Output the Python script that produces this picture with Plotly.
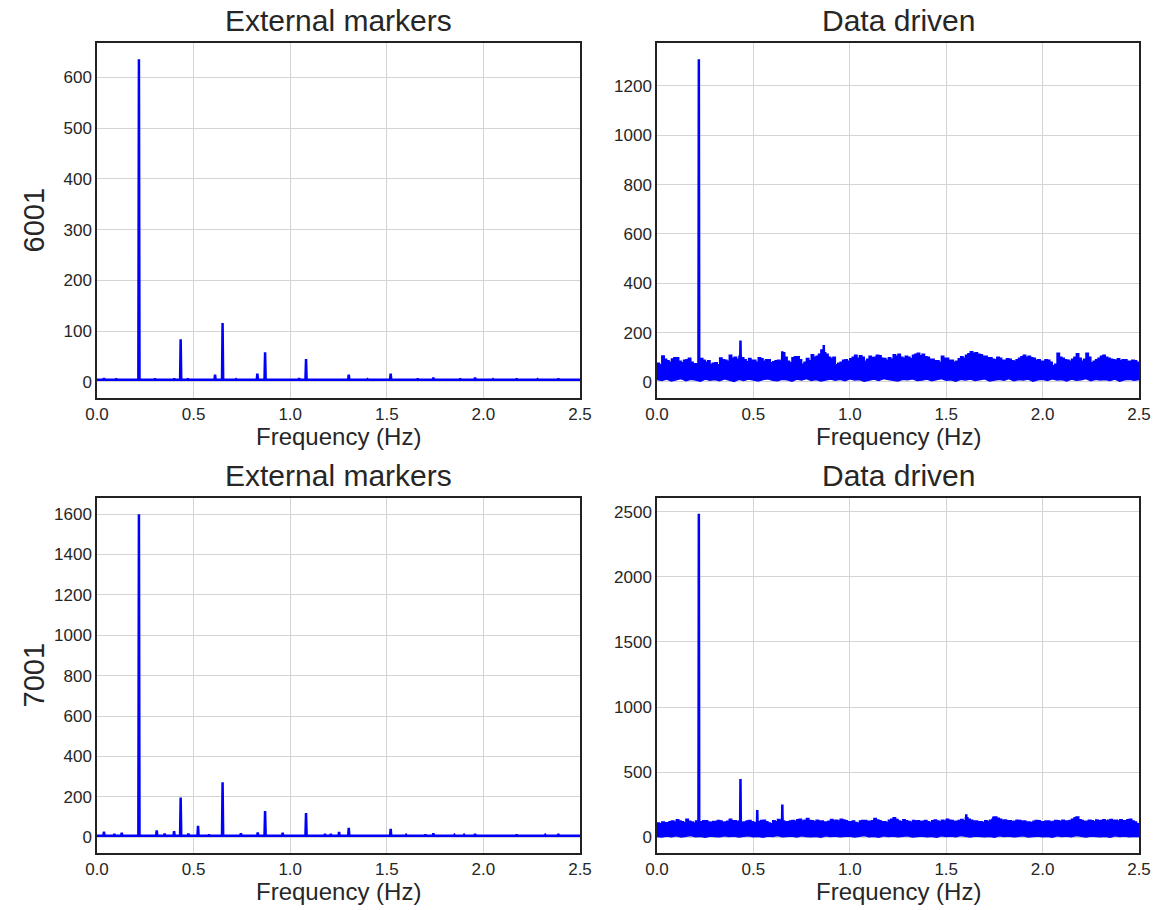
import plotly.graph_objects as go

# ---------------- data ----------------
# External markers, subject 6001: spectral spikes on a low floor
em1_freq = [0.036, 0.10, 0.217, 0.30, 0.37, 0.40, 0.433, 0.47, 0.611, 0.650, 0.72, 0.80,
            0.830, 0.870, 0.95, 1.046, 1.082, 1.16, 1.22, 1.303, 1.40, 1.45, 1.520, 1.66,
            1.741, 1.88, 1.957, 2.05, 2.172, 2.28, 2.35, 2.388]
em1_amp = [7, 6, 636, 6, 5, 6, 84, 6, 14, 116, 5, 5,
           16, 58, 5, 7, 45, 5, 5, 14, 5, 5, 16, 6,
           8, 6, 8, 5, 6, 5, 5, 6]
em1_floor = 4

# External markers, subject 7001
em2_freq = [0.036, 0.09, 0.128, 0.217, 0.309, 0.35, 0.399, 0.433, 0.473, 0.523, 0.58, 0.650,
            0.745, 0.832, 0.870, 0.961, 1.082, 1.18, 1.21, 1.253, 1.303, 1.520, 1.60, 1.70,
            1.741, 1.85, 1.90, 1.957, 2.172, 2.32, 2.388]
em2_amp = [28, 16, 22, 1600, 34, 18, 30, 197, 18, 56, 14, 272,
           20, 24, 130, 22, 120, 16, 16, 26, 46, 42, 12, 14,
           20, 12, 12, 16, 14, 12, 16]
em2_floor = 8

# Data driven: noise band. Upper envelope sampled every 0.0125 Hz, lower every 0.025 Hz
up_freq = [round(i * 0.0125, 4) for i in range(201)]
lo_freq = [round(i * 0.025, 3) for i in range(101)]

dd1_upper = [76, 70, 105, 92, 86, 80, 93, 98,
             98, 84, 78, 88, 90, 96, 80, 74,
             74, 70, 95, 88, 80, 86, 72, 76,
             78, 70, 97, 90, 88, 84, 108, 96,
             100, 92, 104, 98, 90, 82, 95, 88,
             88, 80, 98, 94, 84, 90, 90, 78,
             82, 86, 88, 84, 118, 100, 84, 78,
             98, 102, 102, 90, 72, 80, 95, 86,
             110, 100, 104, 112, 130, 118, 112, 100,
             95, 100, 70, 76, 80, 88, 90, 84,
             94, 100, 108, 96, 106, 100, 84, 92,
             104, 98, 100, 108, 106, 96, 95, 88,
             98, 92, 110, 104, 112, 100, 96, 104,
             100, 94, 108, 112, 116, 106, 112, 102,
             100, 92, 92, 86, 86, 80, 104, 96,
             96, 88, 88, 80, 84, 94, 102, 96,
             108, 114, 122, 116, 118, 112, 110, 104,
             104, 98, 98, 92, 90, 100, 96, 88,
             88, 94, 92, 86, 84, 90, 96, 102,
             108, 100, 104, 98, 96, 88, 90, 84,
             84, 90, 88, 80, 66, 72, 116, 100,
             96, 90, 88, 84, 92, 100, 114, 96,
             84, 92, 116, 100, 78, 84, 90, 96,
             104, 108, 100, 96, 92, 90, 88, 94,
             86, 90, 90, 84, 84, 88, 86, 80,
             74]
dd1_lower = [10, 6, 12, 4, 9, 14, 5, 11, 8, 3, 12, 7, 10, 5, 13, 8, 2, 11, 6, 12,
             9, 4, 10, 13, 7, 5, 11, 9, 3, 12, 8, 14, 6, 10, 4, 9, 12, 7, 11, 5,
             13, 8, 10, 3, 9, 12, 6, 14, 10, 7, 4, 11, 9, 13, 6, 8, 12, 5, 10, 14,
             7, 9, 3, 11, 8, 12, 6, 10, 13, 4, 9, 11, 7, 14, 5, 10, 8, 12, 3, 9,
             11, 6, 13, 8, 10, 4, 12, 7, 9, 14, 5, 11, 8, 10, 6, 12, 3, 9, 11, 7, 10]
dd1_peak_freq = [0.217, 0.433, 0.650, 0.865]
dd1_peak_amp = [1308, 168, 124, 150]
dd1_floor = 50

dd2_upper = [110, 104, 118, 112, 112, 120, 125, 118,
             135, 126, 120, 112, 140, 124, 118, 110,
             125, 116, 120, 128, 128, 118, 115, 122,
             122, 130, 126, 116, 118, 124, 140, 128,
             128, 120, 125, 116, 118, 126, 130, 120,
             115, 108, 122, 130, 132, 120, 110, 104,
             128, 120, 138, 130, 125, 118, 120, 126,
             130, 124, 135, 140, 126, 132, 145, 130,
             128, 120, 132, 126, 125, 118, 118, 124,
             138, 130, 132, 126, 140, 134, 128, 120,
             120, 126, 115, 108, 125, 130, 130, 124,
             122, 128, 145, 134, 128, 120, 120, 114,
             132, 140, 150, 138, 126, 120, 135, 128,
             122, 116, 130, 126, 128, 120, 124, 130,
             120, 114, 128, 134, 126, 120, 132, 126,
             140, 132, 130, 122, 124, 130, 138, 128,
             150, 140, 132, 126, 126, 120, 120, 114,
             128, 122, 132, 140, 156, 146, 140, 132,
             134, 128, 128, 122, 124, 132, 130, 124,
             126, 118, 118, 112, 124, 130, 128, 120,
             120, 126, 126, 118, 122, 130, 128, 122,
             132, 126, 125, 130, 140, 148, 156, 136,
             130, 122, 124, 132, 128, 120, 134, 128,
             130, 136, 126, 132, 138, 130, 132, 126,
             135, 128, 128, 136, 140, 126, 118, 104,
             95]
dd2_lower = [6, 2, 10, 4, 12, 3, 8, 14, 5, 9, 2, 11, 7, 4, 13, 6, 10, 3, 8, 12,
             5, 9, 2, 11, 6, 14, 4, 8, 10, 3, 12, 7, 5, 9, 2, 13, 6, 10, 4, 8,
             11, 3, 7, 14, 5, 9, 2, 12, 6, 10, 4, 8, 13, 3, 7, 11, 5, 9, 2, 12,
             6, 10, 4, 14, 8, 3, 11, 7, 5, 9, 2, 12, 6, 10, 4, 8, 13, 3, 7, 11,
             5, 9, 2, 12, 6, 10, 4, 14, 8, 3, 11, 7, 5, 9, 2, 12, 6, 10, 4, 8, 6]
dd2_peak_freq = [0.217, 0.433, 0.520, 0.650, 1.604, 1.745, 2.172]
dd2_peak_amp = [2485, 448, 210, 252, 178, 160, 158]
dd2_floor = 60

titles = ["External markers", "Data driven", "External markers", "Data driven"]
row_labels = ["6001", "7001"]
x_label = "Frequency (Hz)"
y_ranges = [[-32, 668], [-65, 1374], [-78, 1680], [-120, 2605]]
y_dticks = [100, 200, 200, 500]

# ---------------- helpers ----------------
BLUE = "#0000ff"
FONT = "Liberation Sans, Arial, sans-serif"
TXT = "#262626"


def spike_line(freqs, amps, floor, w=0.003):
    xs, ys = [0.0], [floor]
    for f, a in zip(freqs, amps):
        xs += [f - w, f, f + w]
        ys += [floor, a, floor]
    xs.append(2.5)
    ys.append(floor)
    return xs, ys


def spike_segments(freqs, amps, floor, w=0.002):
    xs, ys = [], []
    for f, a in zip(freqs, amps):
        xs += [f - w, f, f + w, None]
        ys += [floor, a, floor, None]
    return xs, ys


fig = go.Figure()

# panel 1 (top-left)
x, y = spike_line(em1_freq, em1_amp, em1_floor)
fig.add_trace(go.Scatter(x=x, y=y, mode="lines", line=dict(color=BLUE, width=2.5),
                         xaxis="x", yaxis="y", showlegend=False))

# panel 2 (top-right)
fig.add_trace(go.Scatter(x=lo_freq, y=dd1_lower, mode="lines", line=dict(color=BLUE, width=1.5),
                         xaxis="x2", yaxis="y2", showlegend=False))
fig.add_trace(go.Scatter(x=up_freq, y=dd1_upper, mode="lines", line=dict(color=BLUE, width=1.5, shape="hv"),
                         fill="tonexty", fillcolor=BLUE, xaxis="x2", yaxis="y2", showlegend=False))
x, y = spike_segments(dd1_peak_freq, dd1_peak_amp, dd1_floor)
fig.add_trace(go.Scatter(x=x, y=y, mode="lines", line=dict(color=BLUE, width=2.5),
                         xaxis="x2", yaxis="y2", showlegend=False))

# panel 3 (bottom-left)
x, y = spike_line(em2_freq, em2_amp, em2_floor)
fig.add_trace(go.Scatter(x=x, y=y, mode="lines", line=dict(color=BLUE, width=2.5),
                         xaxis="x3", yaxis="y3", showlegend=False))

# panel 4 (bottom-right)
fig.add_trace(go.Scatter(x=lo_freq, y=dd2_lower, mode="lines", line=dict(color=BLUE, width=1.5),
                         xaxis="x4", yaxis="y4", showlegend=False))
fig.add_trace(go.Scatter(x=up_freq, y=dd2_upper, mode="lines", line=dict(color=BLUE, width=1.5, shape="hv"),
                         fill="tonexty", fillcolor=BLUE, xaxis="x4", yaxis="y4", showlegend=False))
x, y = spike_segments(dd2_peak_freq, dd2_peak_amp, dd2_floor)
fig.add_trace(go.Scatter(x=x, y=y, mode="lines", line=dict(color=BLUE, width=2.5),
                         xaxis="x4", yaxis="y4", showlegend=False))

W, H = 1154, 910
XD = [[97 / W, 580 / W], [657 / W, 1139 / W]]
YD = [[1 - 398 / H, 1 - 43 / H], [1 - 853 / H, 1 - 498 / H]]

axis_common = dict(
    showline=True, mirror=True, linecolor="#222222", linewidth=1.5,
    showgrid=True, gridcolor="#d4d4d4", gridwidth=1,
    zeroline=False, ticks="", ticklen=0, automargin=False,
    tickfont=dict(family=FONT, size=17, color=TXT),
)

layout = dict(
    width=W, height=H, margin=dict(l=0, r=0, t=0, b=0, pad=0),
    paper_bgcolor="white", plot_bgcolor="white",
    showlegend=False, font=dict(family=FONT, color=TXT),
)
annotations = []
for i in range(4):
    r, c = divmod(i, 2)
    suffix = "" if i == 0 else str(i + 1)
    layout["xaxis" + suffix] = dict(
        axis_common, domain=XD[c], range=[0, 2.5], dtick=0.5, tick0=0, tickformat=".1f",
        anchor="y" + suffix,
    )
    layout["yaxis" + suffix] = dict(
        axis_common, domain=YD[r], range=y_ranges[i], dtick=y_dticks[i], tick0=0,
        anchor="x" + suffix,
    )
    xc = (XD[c][0] + XD[c][1]) / 2
    annotations.append(dict(
        text=titles[i], xref="paper", yref="paper", x=xc, y=YD[r][1] + 4 / H,
        xanchor="center", yanchor="bottom", showarrow=False,
        font=dict(family=FONT, size=30, color=TXT),
    ))
    annotations.append(dict(
        text=x_label, xref="paper", yref="paper", x=xc, y=YD[r][0] - 23 / H,
        xanchor="center", yanchor="top", showarrow=False,
        font=dict(family=FONT, size=24, color=TXT),
    ))

for r in range(2):
    annotations.append(dict(
        text=row_labels[r], xref="paper", yref="paper", x=33 / W, y=(YD[r][0] + YD[r][1]) / 2,
        xanchor="center", yanchor="middle", showarrow=False, textangle=-90,
        font=dict(family=FONT, size=29, color=TXT),
    ))

layout["annotations"] = annotations
fig.update_layout(**layout)
fig.write_html("out.html", config={"displayModeBar": False},
               post_script="document.body.style.margin='0';document.body.style.overflow='hidden';")
